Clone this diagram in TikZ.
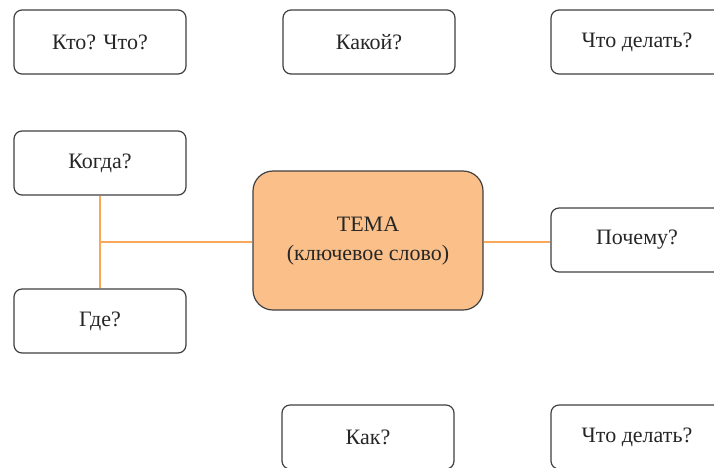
\documentclass[tikz,border=0pt]{standalone}
\usepackage{fontspec}
\setmainfont{Liberation Serif}
\begin{document}
\begin{tikzpicture}[x=1pt,y=-1pt,
  qbox/.style={draw=black!75,line width=1.2pt,rounded corners=8pt,fill=white,minimum width=172pt,minimum height=64pt,inner sep=0pt,font=\fontsize{22}{26}\selectfont,text=black!85},
  mainbox/.style={draw=black!75,line width=1.2pt,rounded corners=20pt,fill=mainfill,minimum width=230pt,minimum height=139pt,inner sep=0pt,font=\fontsize{22}{29}\selectfont,text=black!85},
  link/.style={draw=linkc,line width=1.1pt}]
\definecolor{mainfill}{HTML}{FBC08A}
\definecolor{linkc}{HTML}{F9A85A}
\useasboundingbox[clip] (0,0) rectangle (714,467);
\fill[white] (0,0) rectangle (714,467);
\node[qbox] (who) at (100,42) {Кто? Что?};
\node[qbox] (which) at (369,42) {Какой?};
\node[qbox] (what1) at (637,42) {Что делать?};
\node[qbox] (when) at (100,163) {Когда?};
\node[qbox] (where) at (100,321) {Где?};
\node[mainbox] (topic) at (368,240.5) {\raisebox{-10pt}{\smash{\begin{tabular}{@{}c@{}}ТЕМА\\(ключевое слово)\end{tabular}}}};
\node[qbox] (why) at (637,240) {Почему?};
\node[qbox] (how) at (368,437) {Как?};
\node[qbox] (what2) at (637,437) {Что делать?};
\coordinate (j) at (100,242);
\draw[link] (when.south) -- (where.north);
\draw[link] (j) -- (topic.west |- j);
\draw[link] (topic.east |- j) -- (why.west |- j);
\end{tikzpicture}
\end{document}
